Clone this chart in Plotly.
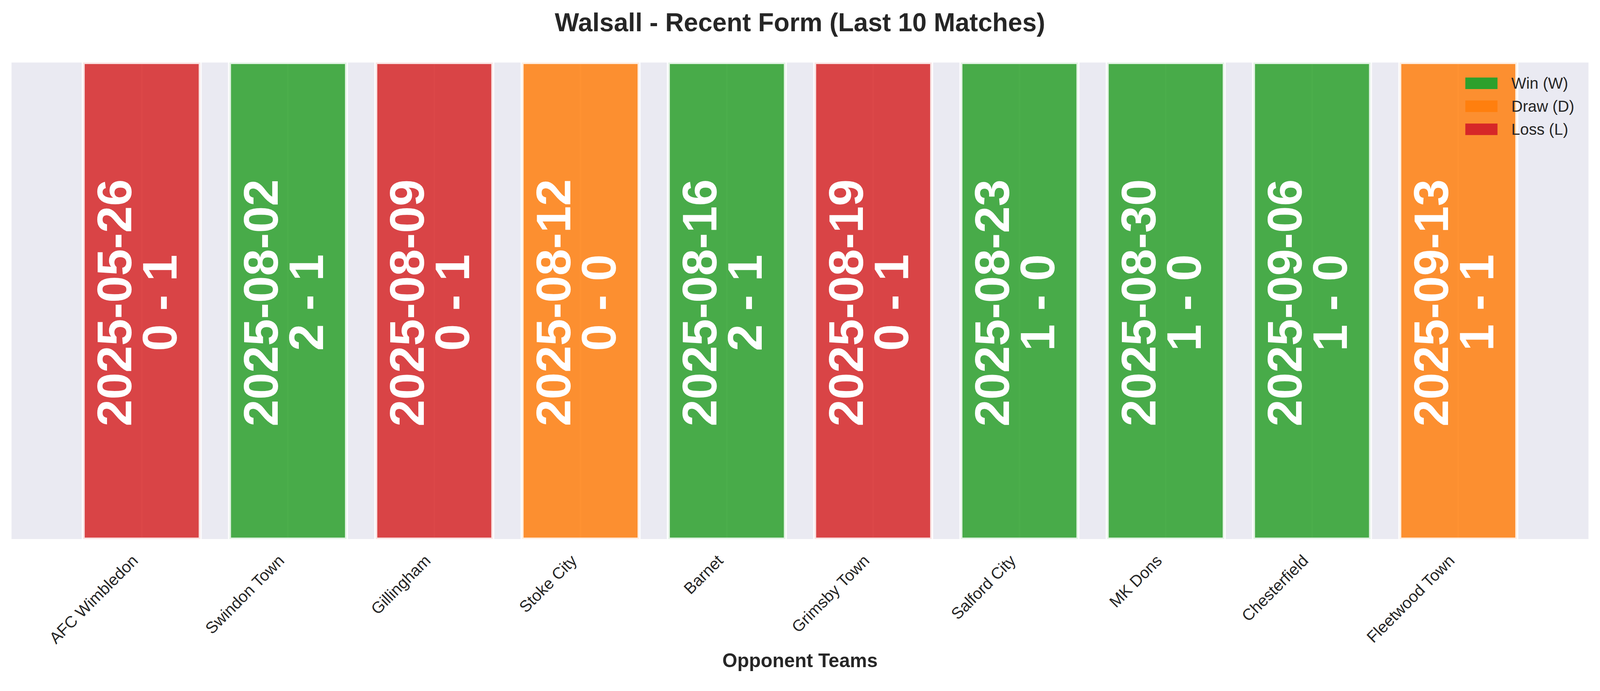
import plotly.graph_objects as go

# Walsall's last 10 matches (oldest -> newest)
opponents = ["AFC Wimbledon", "Swindon Town", "Gillingham", "Stoke City", "Barnet",
             "Grimsby Town", "Salford City", "MK Dons", "Chesterfield", "Fleetwood Town"]
match_dates = ["2025-05-26", "2025-08-02", "2025-08-09", "2025-08-12", "2025-08-16",
               "2025-08-19", "2025-08-23", "2025-08-30", "2025-09-06", "2025-09-13"]
scores = ["0 - 1", "2 - 1", "0 - 1", "0 - 0", "2 - 1",
          "0 - 1", "1 - 0", "1 - 0", "1 - 0", "1 - 1"]
results = ["L", "W", "L", "D", "W", "L", "W", "W", "W", "D"]
bar_heights = [1, 1, 1, 1, 1, 1, 1, 1, 1, 1]

result_codes = ["W", "D", "L"]
result_labels = ["Win (W)", "Draw (D)", "Loss (L)"]
result_colors = ["#2ca02c", "#ff7f0e", "#d62728"]

FONT = "Liberation Sans, Arial, sans-serif"
TEXT_COLOR = "#262626"
FIG_W, FIG_H = 4170, 1769


def hex_to_rgba(hex_color, alpha):
    h = hex_color.lstrip("#")
    r, g, b = int(h[0:2], 16), int(h[2:4], 16), int(h[4:6], 16)
    return f"rgba({r},{g},{b},{alpha})"


def main():
    color_map = dict(zip(result_codes, result_colors))
    bar_colors = [hex_to_rgba(color_map[r], 0.85) for r in results]

    fig = go.Figure()
    fig.add_trace(go.Bar(
        x=opponents,
        y=bar_heights,
        width=0.8,
        marker=dict(color=bar_colors, line=dict(color="rgba(255,255,255,0.85)", width=8)),
        showlegend=False,
        hoverinfo="skip",
    ))

    # date + score written vertically inside every bar
    for team, date, score in zip(opponents, match_dates, scores):
        for txt, shift in ((date, -71), (score, 47)):
            fig.add_annotation(
                x=team, y=0.5, xref="x", yref="y",
                text=f"<b>{txt}</b>", textangle=-90, showarrow=False,
                xshift=shift, yshift=-5,
                font=dict(family=FONT, size=126, color="white"),
            )

    # legend drawn by hand so the handles keep matplotlib's proportions
    row_y = [0.9565, 0.9082, 0.8599]
    for label, color, yy in zip(result_labels, result_colors, row_y):
        fig.add_shape(type="rect", xref="paper", yref="paper",
                      x0=0.9219, x1=0.9423, y0=yy - 0.0121, y1=yy + 0.0121,
                      fillcolor=color, line=dict(width=0), layer="above")
        fig.add_annotation(x=0.9506, y=yy, xref="paper", yref="paper",
                           text=label, showarrow=False, xanchor="left", yanchor="middle",
                           font=dict(family=FONT, size=41, color=TEXT_COLOR))

    fig.update_layout(
        width=FIG_W, height=FIG_H,
        margin=dict(l=30, r=30, t=163, b=364),
        paper_bgcolor="white",
        plot_bgcolor="#eaeaf2",
        font=dict(family=FONT, color=TEXT_COLOR),
        title=dict(text="<b>Walsall - Recent Form (Last 10 Matches)</b>",
                   x=0.5, xanchor="center", y=1 - 58 / FIG_H, yanchor="middle",
                   font=dict(family=FONT, size=67, color=TEXT_COLOR)),
        bargap=0.2,
    )
    fig.update_xaxes(
        range=[-0.89, 9.89],
        showgrid=True, gridcolor="white", gridwidth=4,
        tickangle=-45, tickfont=dict(family=FONT, size=42, color=TEXT_COLOR),
        ticks="", ticklabelstandoff=22, ticklabelshift=-22,
        showline=False, zeroline=False,
        title=dict(text="<b>Opponent Teams</b>", standoff=18,
                   font=dict(family=FONT, size=50, color=TEXT_COLOR)),
    )
    fig.update_yaxes(range=[0, 1], showgrid=False, showticklabels=False,
                     zeroline=False, showline=False)

    # no page margin, and fit the fixed-size figure into whatever the window really is
    fit_js = (
        "document.body.style.margin='0';"
        "document.body.style.overflow='hidden';"
        f"var z=Math.min(window.innerWidth/{FIG_W}, window.innerHeight/{FIG_H});"
        "document.body.style.zoom=z;"
    )
    fig.write_html("out.html", post_script=fit_js, config={"displayModeBar": False})


if __name__ == "__main__":
    main()
